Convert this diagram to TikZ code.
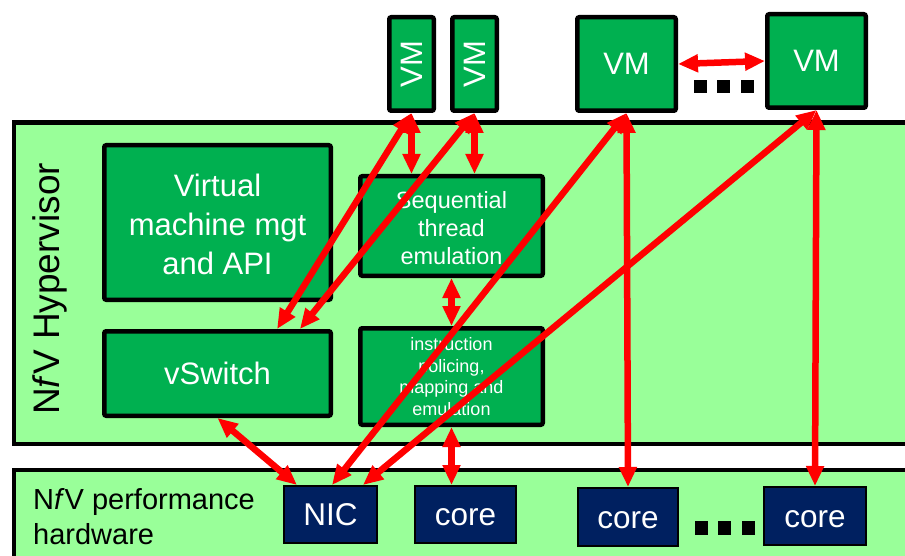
\documentclass[tikz,border=0pt]{standalone}
\usepackage{fontspec}
\setmainfont{Liberation Sans}
\usetikzlibrary{arrows.meta,calc}
\definecolor{dkgreen}{HTML}{00B050}
\definecolor{ltgreen}{HTML}{99FF99}
\definecolor{navyblue}{HTML}{002060}
\definecolor{arrred}{HTML}{FF0000}
\begin{document}
\begin{tikzpicture}[x=1pt,y=-1pt,
  panel/.style={draw=black, line width=4.5pt, fill=ltgreen},
  gbox/.style={draw=black, line width=4.5pt, fill=dkgreen, rounded corners=2pt,
    text=white, align=center, inner sep=0pt},
  hwbox/.style={draw=black, line width=2pt, fill=navyblue, text=white, inner sep=0pt,
    font=\fontsize{31.5}{36}\selectfont},
  link/.style={draw=arrred, line width=6.5pt,
    {Triangle[length=20pt,width=17pt]}-{Triangle[length=20pt,width=17pt]}},
  sq/.style={fill=black}
]
\useasboundingbox (0,0) rectangle (905,556);
\clip (0,0) rectangle (905,556);
\fill[white] (0,0) rectangle (905,556);

% panels
\draw[panel] (14,122.5) rectangle (930,444);
\draw[panel] (14,470) rectangle (930,590);

\node[rotate=90, font=\fontsize{37}{40}\selectfont, inner sep=0pt] (hvlabel) at (50,289) {N\textit{f}V Hypervisor};
\node[anchor=north west, align=left, inner sep=0pt, font=\fontsize{29}{35}\selectfont] (hwlabel) at (33,488) {N\textit{f}V performance\\hardware};

% VMs
\node[gbox, minimum width=44.5pt, minimum height=93.5pt] (svm1) at (411.5,64) {\rotatebox{90}{\fontsize{31}{36}\selectfont VM}};
\node[gbox, minimum width=44.5pt, minimum height=93.5pt] (svm2) at (474.5,64) {\rotatebox{90}{\fontsize{31}{36}\selectfont VM}};
\node[gbox, minimum width=98.5pt, minimum height=93.5pt, font=\fontsize{31}{36}\selectfont] (bvm1) at (626.5,64) {VM};
\node[gbox, minimum width=98.5pt, minimum height=93.5pt, font=\fontsize{31}{36}\selectfont] (bvm2) at (816.5,61) {VM};

\fill[sq] (694,80) rectangle (707,93);
\fill[sq] (717,80) rectangle (730,93);
\fill[sq] (741,80) rectangle (754,93);

% hypervisor boxes
\node[gbox, minimum width=226.5pt, minimum height=154.5pt, font=\fontsize{31}{39}\selectfont] (vmm) at (217.5,222.5) {\raisebox{-2pt}[\height][\depth]{\parbox{220pt}{\centering Virtual\\machine mgt\\and API}}};
\node[gbox, minimum width=226.5pt, minimum height=84.5pt, font=\fontsize{31}{36}\selectfont] (vsw) at (217.5,373.5) {vSwitch};
\node[gbox, minimum width=182.5pt, minimum height=99.5pt, font=\fontsize{23.5}{28}\selectfont] (seq) at (451.5,226) {\raisebox{-2pt}[\height][\depth]{\parbox{178pt}{\centering Sequential\\thread\\emulation}}};
\node[gbox, minimum width=182.5pt, minimum height=96.5pt, font=\fontsize{18}{21.5}\selectfont] (inst) at (451.5,376.5) {instruction\\policing,\\mapping and\\emulation};

% hardware
\node[hwbox, minimum width=93pt, minimum height=57pt] (nic) at (330.5,514.5) {NIC};
\node[hwbox, minimum width=101pt, minimum height=57pt] (core1) at (465.5,514.5) {\raisebox{-3pt}[\height][\depth]{core}};
\node[hwbox, minimum width=100pt, minimum height=58pt] (core2) at (628,517) {\raisebox{-3pt}[\height][\depth]{core}};
\node[hwbox, minimum width=102pt, minimum height=58pt] (core3) at (815,516) {\raisebox{-3pt}[\height][\depth]{core}};

\fill[sq] (695,521) rectangle (708,535);
\fill[sq] (718,521) rectangle (731,535);
\fill[sq] (742,521) rectangle (755,535);

% connectors
\draw[link] (svm1.south) -- ($(vsw.north west)!0.758!(vsw.north east)$);
\draw[link] (svm2.south) -- ($(vsw.north west)!0.857!(vsw.north east)$);
\draw[link] (svm1.south) -- (svm1.south |- seq.north);
\draw[link] (svm2.south) -- (svm2.south |- seq.north);
\draw[link] (seq.south) -- (inst.north);
\draw[link] (inst.south) -- (inst.south |- core1.north);
\draw[link] (vsw.south) -- ($(nic.north west)!0.147!(nic.north east)$);
\draw[link] (bvm1.south) -- ($(nic.north west)!0.516!(nic.north east)$);
\draw[link] (bvm2.south) -- ($(nic.north west)!0.842!(nic.north east)$);
\draw[link] (bvm1.south) -- (core2.north);
\draw[link] (bvm2.south) -- (core3.north);
\draw[link] (bvm1.east) -- (bvm2.west);
\end{tikzpicture}
\end{document}
